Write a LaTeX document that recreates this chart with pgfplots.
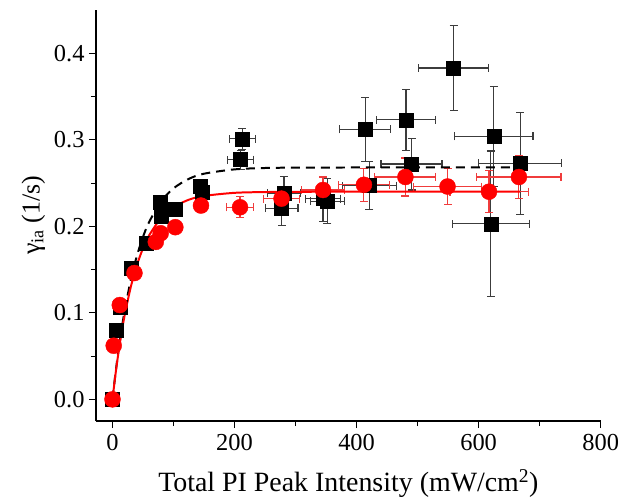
\documentclass[border=0pt]{standalone}
\usepackage{fontspec}
\setmainfont{Liberation Serif}
\usepackage{pgfplots}
\pgfplotsset{compat=1.18}
\usepackage{pgfplotstable}
\definecolor{myred}{RGB}{255,0,0}
\definecolor{ebred}{RGB}{240,60,60}
\definecolor{ebgray}{RGB}{60,60,60}

\pgfplotstableread{
x y ex ey
0 0.000 3 0.008
6 0.080 3 0.006
13 0.107 4 0.006
30 0.152 5 0.006
55 0.181 6 0.006
78 0.228 7 0.008
80 0.212 7 0.008
103 0.220 8 0.008
143 0.246 10 0.008
147 0.240 10 0.008
210 0.277 21 0.011
213 0.301 21 0.012
277 0.221 27 0.020
281 0.238 27 0.020
345 0.232 28 0.026
352 0.229 28 0.026
414 0.312 42 0.037
421 0.247 44 0.028
481 0.323 49 0.035
490 0.272 50 0.030
559 0.383 57 0.049
620 0.203 63 0.084
625 0.304 64 0.058
668 0.273 68 0.059
}\blackdata

\pgfplotstableread{
x y ex ey
0 0.000 3 0.005
2 0.062 2 0.005
12 0.109 3 0.005
36 0.146 4 0.005
71 0.182 6 0.005
79 0.192 7 0.006
103 0.199 8 0.006
145 0.224 11 0.008
209 0.222 22 0.012
277 0.232 29 0.014
345 0.242 35 0.015
412 0.248 42 0.019
480 0.257 50 0.022
549 0.246 56 0.021
617 0.240 64 0.024
666 0.257 69 0.025
}\reddata

\pgfplotstableread{
x y
0 0
5 0.0293
10 0.0549
15 0.0775
20 0.0973
30 0.1299
40 0.1551
50 0.1745
60 0.1895
80 0.2100
100 0.2221
125 0.2307
150 0.2351
200 0.2387
250 0.2396
300 0.2399
400 0.2400
500 0.2400
600 0.2400
668 0.2400
}\redfit

\pgfplotstableread{
x y
0 0
5 0.0304
10 0.0574
15 0.0813
20 0.1025
30 0.1379
40 0.1658
50 0.1877
60 0.2049
80 0.2290
100 0.2439
125 0.2548
150 0.2608
200 0.2658
250 0.2674
300 0.2678
400 0.2680
500 0.2680
600 0.2680
662 0.2680
}\blackfit

\begin{document}
\begin{tikzpicture}
\begin{axis}[
  scale only axis,
  width=504.7bp, height=411bp,
  xmin=-27, xmax=800,
  ymin=-0.025, ymax=0.45,
  axis x line*=bottom, axis y line*=left,
  axis line style={line width=1.2pt},
  tick style={line width=1.1pt, black},
  tick align=outside,
  major tick length=7bp, minor tick length=5bp,
  xtick={0,200,400,600,800},
  minor x tick num=1,
  ytick={0,0.1,0.2,0.3,0.4},
  minor y tick num=1,
  yticklabel style={/pgf/number format/fixed, /pgf/number format/zerofill, /pgf/number format/precision=1, xshift=-1bp},
  xticklabel style={yshift=-3bp},
  /pgf/number format/assume math mode=true,
  ticklabel style={font=\fontsize{24.5}{28}\selectfont},
  xlabel={Total PI Peak Intensity (mW/cm\textsuperscript{2})},
  ylabel={γ\textsubscript{ia} (1/s)},
  xlabel style={font=\fontsize{28}{32}\selectfont, yshift=-12bp},
  ylabel style={font=\fontsize{26}{30}\selectfont, yshift=2bp},
  clip=false,
]
\coordinate (bl) at (rel axis cs:0,0);
\coordinate (tr) at (rel axis cs:1,1);
\addplot[only marks, mark=square*, mark size=7bp, black,
  error bars/.cd, x dir=both, x explicit, y dir=both, y explicit,
  error bar style={color=ebgray, line width=1.1pt},
  error mark options={rotate=90, mark size=4bp, line width=1.1pt, color=ebgray}]
  table[x=x, y=y, x error=ex, y error=ey] {\blackdata};
\addplot[only marks, mark=*, mark size=8bp, myred, mark options={fill=myred, draw=myred},
  error bars/.cd, x dir=both, x explicit, y dir=both, y explicit,
  error bar style={color=ebred, line width=1.1pt},
  error mark options={rotate=90, mark size=4bp, line width=1.1pt, color=ebred}]
  table[x=x, y=y, x error=ex, y error=ey] {\reddata};
\addplot[black, dash pattern=on 9bp off 6bp, line width=2pt, smooth, no marks] table[x=x, y=y] {\blackfit};
\addplot[myred, line width=2pt, smooth, no marks] table[x=x, y=y] {\redfit};
\end{axis}
\path ([xshift=-96bp,yshift=-83bp]bl) rectangle ([xshift=23.3bp,yshift=10bp]tr);
\end{tikzpicture}
\end{document}
